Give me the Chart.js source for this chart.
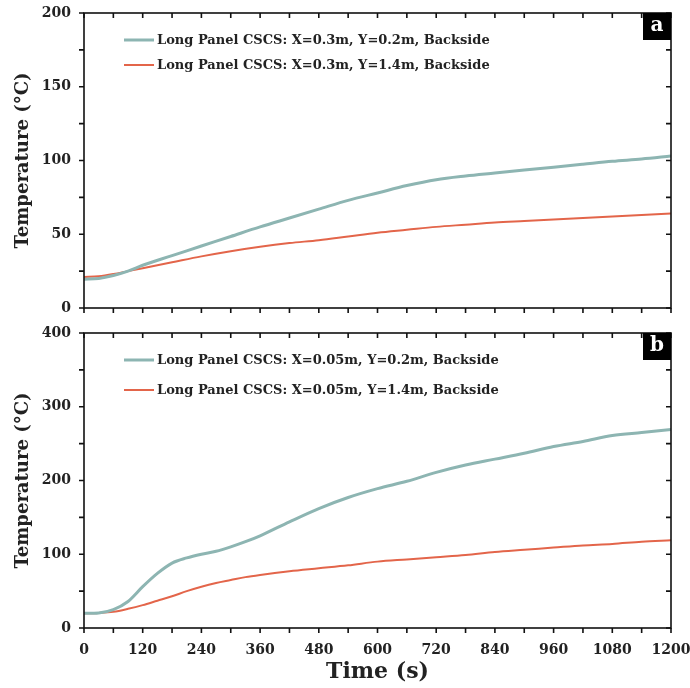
<!DOCTYPE html>
<html>
<head>
<meta charset="utf-8">
<script src="https://cdn.jsdelivr.net/npm/chart.js@4"></script>
<style>
  html, body { margin: 0; padding: 0; background: #fff; }
  #wrap { position: relative; width: 690px; height: 688px; }
  .panel { position: absolute; left: 0; width: 690px; }
  #pa { top: 0; height: 320px; }
  #pb { top: 320px; height: 368px; }
</style>
</head>
<body>
<div id="wrap">
  <div class="panel" id="pa"><canvas id="chartA" width="690" height="320"></canvas></div>
  <div class="panel" id="pb"><canvas id="chartB" width="690" height="368"></canvas></div>
</div>
<script>
// ---- datos ----
const timeA = [0, 30, 60, 90, 120, 180, 240, 300, 360, 420, 480, 540, 600, 660, 720, 780, 840, 900, 960, 1020, 1080, 1140, 1200];
const tealA = [19.5, 20, 22, 25, 29, 35.5, 42, 48.5, 55, 61, 67, 73, 78, 83, 87, 89.5, 91.5, 93.5, 95.5, 97.5, 99.5, 101, 103];
const redA  = [21, 21.5, 23, 25, 27, 31, 35, 38.5, 41.5, 44, 46, 48.5, 51, 53, 55, 56.5, 58, 59, 60, 61, 62, 63, 64];

const timeB = [0, 30, 60, 90, 120, 150, 180, 210, 240, 270, 300, 330, 360, 420, 480, 540, 600, 660, 720, 780, 840, 900, 960, 1020, 1080, 1140, 1200];
const tealB = [20, 20.5, 25, 36, 56, 74, 88, 95, 100, 104, 110, 117, 125, 144, 162, 177, 189, 199, 211, 221, 229, 237, 246, 253, 261, 265, 269];
const redB  = [20, 20.5, 22, 26, 31, 37, 43, 50, 56, 61, 65, 69, 72, 77, 81, 85, 90, 93, 96, 99, 103, 106, 109, 112, 114, 117, 119];

const labelsA = ['Long Panel CSCS: X=0.3m, Y=0.2m, Backside', 'Long Panel CSCS: X=0.3m, Y=1.4m, Backside'];
const labelsB = ['Long Panel CSCS: X=0.05m, Y=0.2m, Backside', 'Long Panel CSCS: X=0.05m, Y=1.4m, Backside'];

const xTicks = [0, 120, 240, 360, 480, 600, 720, 840, 960, 1080, 1200];

const TEAL = '#8db5b2';
const RED  = '#e3654a';
const SERIF = "'DejaVu Serif', 'Liberation Serif', serif";

// marco con ticks (afuera abajo/izq, adentro arriba/der) + leyenda + etiqueta de panel
const framePlugin = {
  id: 'frame',
  afterDatasetsDraw(chart, args, opts) {
    const { ctx, chartArea: a } = chart;
    const xs = chart.scales.x, ys = chart.scales.y;
    ctx.save();
    ctx.strokeStyle = '#111';
    ctx.lineWidth = 1.6;
    ctx.strokeRect(a.left, a.top, a.right - a.left, a.bottom - a.top);
    ctx.beginPath();
    for (let t = 0; t <= 1200; t += 60) {
      const px = xs.getPixelForValue(t);
      ctx.moveTo(px, a.bottom); ctx.lineTo(px, a.bottom + 5);
      ctx.moveTo(px, a.top); ctx.lineTo(px, a.top + 5);
    }
    for (let v = ys.min; v <= ys.max; v += opts.minor) {
      const py = ys.getPixelForValue(v);
      ctx.moveTo(a.left - 5, py); ctx.lineTo(a.left, py);
      ctx.moveTo(a.right - 5, py); ctx.lineTo(a.right, py);
    }
    ctx.stroke();

    // leyenda
    ctx.font = 'bold 13px ' + SERIF;
    ctx.textBaseline = 'middle';
    ctx.textAlign = 'left';
    chart.data.datasets.forEach((ds, i) => {
      const y = a.top + opts.legendTop + i * opts.legendGap;
      ctx.strokeStyle = ds.borderColor;
      ctx.lineWidth = ds.borderWidth;
      ctx.beginPath();
      ctx.moveTo(a.left + 40, y); ctx.lineTo(a.left + 70, y);
      ctx.stroke();
      ctx.fillStyle = '#222';
      ctx.fillText(ds.label, a.left + 73, y + 1);
    });

    // etiqueta a / b
    ctx.fillStyle = '#000';
    ctx.fillRect(a.right - 28, a.top, 28, 27);
    ctx.fillStyle = '#fff';
    ctx.font = 'bold 20px ' + SERIF;
    ctx.textAlign = 'center';
    ctx.fillText(opts.tag, a.right - 14, a.top + 13);
    ctx.restore();
  }
};

function makeChart(id, times, teal, red, labels, cfg) {
  return new Chart(document.getElementById(id), {
    type: 'line',
    data: {
      datasets: [
        { label: labels[0], data: times.map((t, i) => ({ x: t, y: teal[i] })), borderColor: TEAL, borderWidth: 3 },
        { label: labels[1], data: times.map((t, i) => ({ x: t, y: red[i] })), borderColor: RED, borderWidth: 2 }
      ]
    },
    options: {
      responsive: false,
      animation: false,
      layout: { padding: { top: 13, right: 19, left: 0, bottom: 0 } },
      elements: { point: { radius: 0 }, line: { cubicInterpolationMode: 'monotone' } },
      plugins: {
        legend: { display: false },
        tooltip: { enabled: false },
        frame: { minor: cfg.minor, tag: cfg.tag, legendTop: 27, legendGap: cfg.legendGap }
      },
      scales: {
        x: {
          type: 'linear', min: 0, max: 1200,
          afterBuildTicks: s => { s.ticks = xTicks.map(v => ({ value: v })); },
          grid: { display: false, drawTicks: false },
          border: { display: false },
          ticks: { display: cfg.showX, padding: 14, color: '#222', callback: v => String(v),
                   font: { family: SERIF, weight: 'bold', size: 14 } },
          title: { display: cfg.showX, text: 'Time (s)', color: '#222', padding: { top: 0, bottom: 3 },
                   font: { family: SERIF, weight: 'bold', size: 22 } },
          afterFit: s => { s.height = cfg.xHeight; s.paddingLeft = 0; s.paddingRight = 0; }
        },
        y: {
          min: 0, max: cfg.ymax,
          ticks: { stepSize: cfg.major, padding: 13, color: '#222', font: { family: SERIF, weight: 'bold', size: 14 } },
          grid: { display: false, drawTicks: false },
          border: { display: false },
          title: { display: true, text: 'Temperature (°C)', color: '#222', padding: { top: 13, bottom: 0 },
                   font: { family: SERIF, weight: 'bold', size: 18 } },
          afterFit: s => { s.width = 84; s.paddingTop = 0; s.paddingBottom = 0; }
        }
      }
    },
    plugins: [framePlugin]
  });
}

makeChart('chartA', timeA, tealA, redA, labelsA, { ymax: 200, major: 50, minor: 25, tag: 'a', showX: false, xHeight: 12, legendGap: 25 });
makeChart('chartB', timeB, tealB, redB, labelsB, { ymax: 400, major: 100, minor: 50, tag: 'b', showX: true, xHeight: 60, legendGap: 30 });
</script>
</body>
</html>
